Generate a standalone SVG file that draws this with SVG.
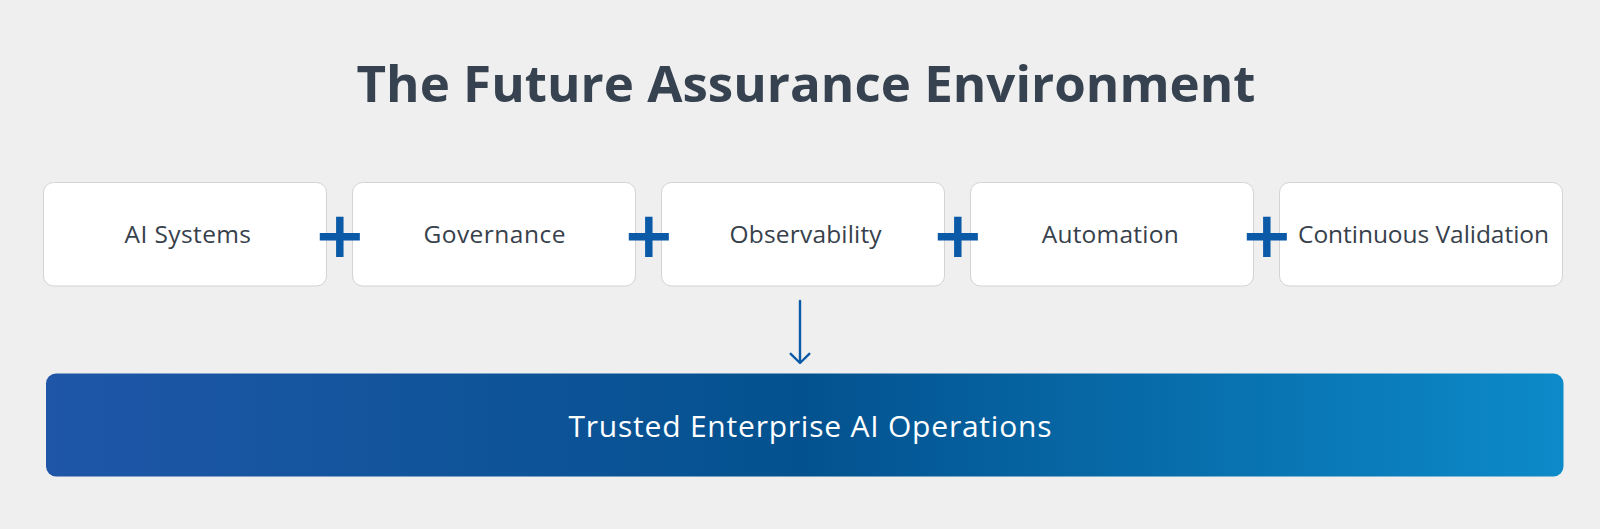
<svg xmlns="http://www.w3.org/2000/svg" width="1600" height="529" viewBox="0 0 1600 529">
  <defs>
    <linearGradient id="barGrad" x1="0" y1="0" x2="1" y2="0">
      <stop offset="0" stop-color="#1f56a8"/>
      <stop offset="0.5" stop-color="#03528f"/>
      <stop offset="1" stop-color="#0d8ac9"/>
    </linearGradient>
  </defs>
  <style>
    .bg { fill: #efefef; }
    .title { font-family: "Open Sans", "Liberation Sans", sans-serif; font-weight: 700; font-size: 50px; fill: #36424f; }
    .box { fill: #ffffff; stroke: #d3d3d3; stroke-width: 1; }
    .label { font-family: "Open Sans", "Liberation Sans", sans-serif; font-size: 24.5px; fill: #37414b; }
    .plus { font-family: "DejaVu Sans", sans-serif; font-weight: 700; font-size: 64px; fill: #0b5aa8; }
    .conn { stroke: #0b5aa8; stroke-width: 2.4; fill: none; stroke-linecap: round; }
    .barText { font-family: "Open Sans", "Liberation Sans", sans-serif; font-size: 30px; fill: #ffffff; }
  </style>
  <rect class="bg" x="0" y="0" width="1600" height="529"/>
  <text id="title" class="title" x="806" y="101.5" text-anchor="middle" textLength="899" lengthAdjust="spacingAndGlyphs">The Future Assurance Environment</text>

  <g id="node-ai-systems">
    <rect class="box" x="43.5" y="182.5" width="283" height="103.5" rx="10"/>
    <text class="label" x="187.8" y="242.5" text-anchor="middle" textLength="126.5">AI Systems</text>
  </g>
  <g id="node-governance">
    <rect class="box" x="352.5" y="182.5" width="283" height="103.5" rx="10"/>
    <text class="label" x="494.4" y="242.5" text-anchor="middle" textLength="142">Governance</text>
  </g>
  <g id="node-observability">
    <rect class="box" x="661.5" y="182.5" width="283" height="103.5" rx="10"/>
    <text class="label" x="805.6" y="242.5" text-anchor="middle" textLength="152">Observability</text>
  </g>
  <g id="node-automation">
    <rect class="box" x="970.5" y="182.5" width="283" height="103.5" rx="10"/>
    <text class="label" x="1110.2" y="242.5" text-anchor="middle" textLength="137">Automation</text>
  </g>
  <g id="node-continuous-validation">
    <rect class="box" x="1279.5" y="182.5" width="283" height="103.5" rx="10"/>
    <text class="label" x="1423.5" y="242.5" text-anchor="middle" textLength="251">Continuous Validation</text>
  </g>

  <g id="operators">
    <text class="plus" x="339.7" y="257" text-anchor="middle">+</text>
    <text class="plus" x="648.7" y="257" text-anchor="middle">+</text>
    <text class="plus" x="957.7" y="257" text-anchor="middle">+</text>
    <text class="plus" x="1266.7" y="257" text-anchor="middle">+</text>
  </g>

  <g id="connectors">
    <line class="conn" x1="800" y1="301" x2="800" y2="362"/>
    <path class="conn" d="M790.7,353.8 L800,363 L809.3,353.8" stroke-linejoin="round"/>
  </g>

  <g id="node-trusted-operations">
    <rect x="46" y="373.5" width="1517.5" height="103" rx="10" fill="url(#barGrad)"/>
    <text class="barText" x="810" y="437" text-anchor="middle" textLength="483">Trusted Enterprise AI Operations</text>
  </g>
</svg>
